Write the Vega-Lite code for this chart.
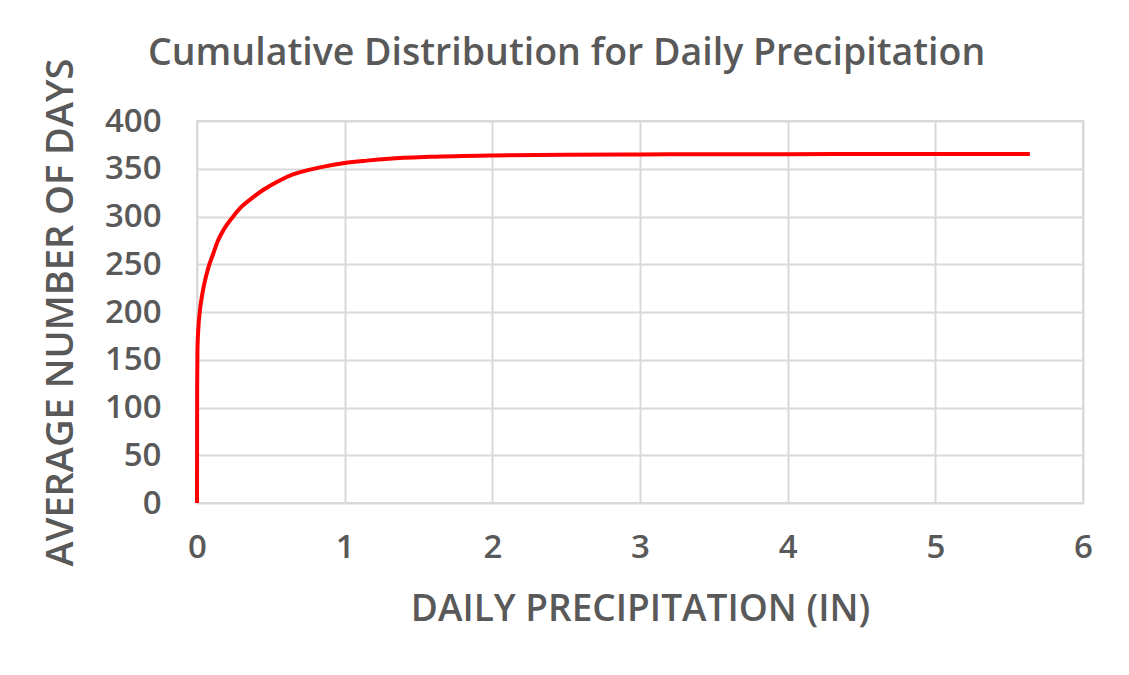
{
  "$schema": "https://vega.github.io/schema/vega-lite/v6.json",
  "width": 886,
  "height": 382,
  "autosize": {"type": "none"},
  "padding": {"left": 197, "top": 121, "right": 46, "bottom": 172},
  "background": "white",
  "title": {
    "text": "Cumulative Distribution for Daily Precipitation",
    "anchor": "start",
    "frame": "group",
    "dx": -49,
    "offset": -44,
    "baseline": "alphabetic",
    "font": "Open Sans",
    "fontSize": 37.5,
    "fontWeight": 600,
    "color": "#595959"
  },
  "data": {
    "values": [
      {"precip": 0, "days": 0},
      {"precip": 0.001, "days": 120},
      {"precip": 0.003, "days": 160},
      {"precip": 0.01, "days": 185},
      {"precip": 0.02, "days": 202},
      {"precip": 0.035, "days": 218},
      {"precip": 0.05, "days": 230},
      {"precip": 0.08, "days": 248},
      {"precip": 0.11, "days": 261},
      {"precip": 0.14, "days": 274},
      {"precip": 0.18, "days": 286},
      {"precip": 0.24, "days": 299},
      {"precip": 0.3, "days": 310},
      {"precip": 0.37, "days": 319},
      {"precip": 0.45, "days": 328},
      {"precip": 0.55, "days": 337},
      {"precip": 0.65, "days": 344},
      {"precip": 0.75, "days": 348.5},
      {"precip": 0.85, "days": 352},
      {"precip": 1.0, "days": 356},
      {"precip": 1.15, "days": 358.5},
      {"precip": 1.3, "days": 360.5},
      {"precip": 1.58, "days": 362.5},
      {"precip": 2.0, "days": 364},
      {"precip": 2.5, "days": 364.7},
      {"precip": 3.0, "days": 365},
      {"precip": 4.0, "days": 365.3},
      {"precip": 5.0, "days": 365.5},
      {"precip": 5.64, "days": 365.5}
    ]
  },
  "mark": {"type": "line", "color": "#ff0000", "strokeWidth": 4, "interpolate": "monotone", "clip": false},
  "encoding": {
    "x": {
      "field": "precip",
      "type": "quantitative",
      "scale": {"domain": [0, 6], "nice": false, "zero": true},
      "axis": {
        "title": "DAILY PRECIPITATION (IN)",
        "values": [0, 1, 2, 3, 4, 5, 6],
        "labelOverlap": false,
        "labelFlush": false,
        "labelPadding": 28,
        "titlePadding": 27,
        "titleFontSize": 37
      }
    },
    "y": {
      "field": "days",
      "type": "quantitative",
      "scale": {"domain": [0, 400], "nice": false},
      "axis": {
        "title": "AVERAGE NUMBER OF DAYS",
        "values": [0, 50, 100, 150, 200, 250, 300, 350, 400],
        "labelOverlap": false,
        "labelPadding": 36,
        "titlePadding": 24,
        "titleFontSize": 38
      }
    }
  },
  "config": {
    "view": {"stroke": "#d9d9d9", "strokeWidth": 2},
    "axis": {
      "domain": false,
      "ticks": false,
      "grid": true,
      "gridColor": "#d9d9d9",
      "gridWidth": 2,
      "labelFont": "Open Sans",
      "labelFontSize": 33,
      "labelFontWeight": 600,
      "labelColor": "#595959",
      "titleFont": "Open Sans",
      "titleFontSize": 36,
      "titleFontWeight": 600,
      "titleColor": "#595959"
    }
  }
}
